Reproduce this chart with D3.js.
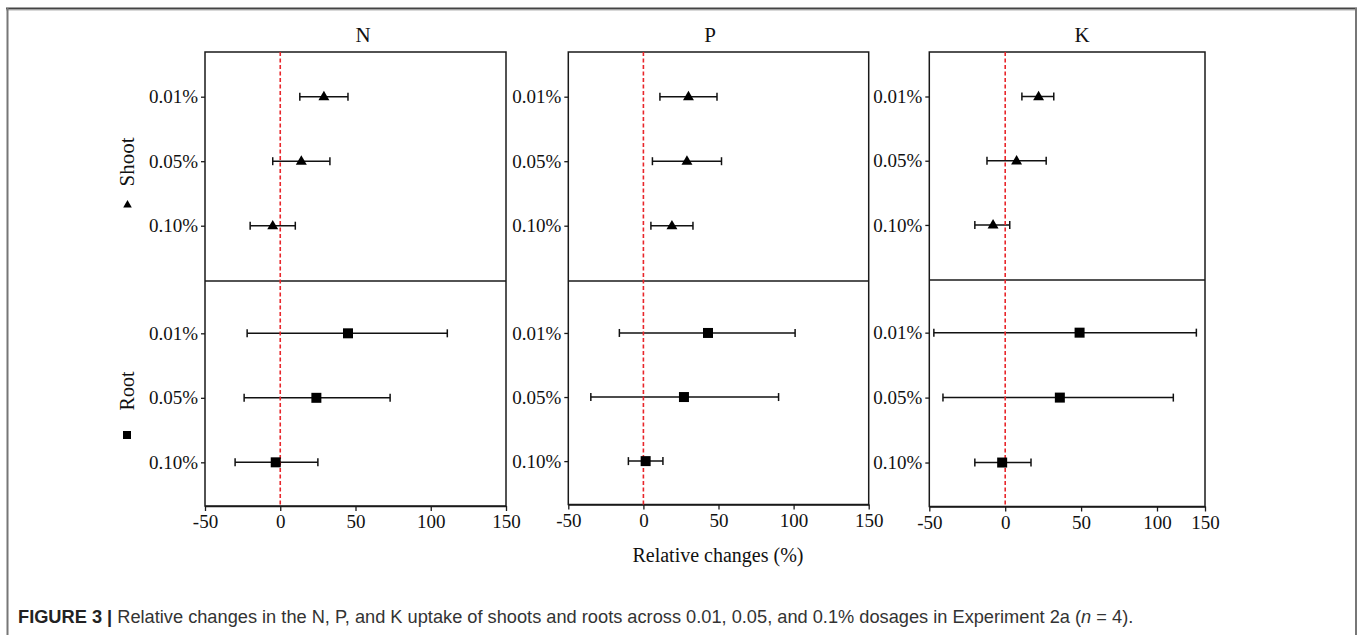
<!DOCTYPE html>
<html>
<head>
<meta charset="utf-8">
<script src="https://cdn.jsdelivr.net/npm/d3@7"></script>
<style>
  html, body { margin: 0; padding: 0; background: #fff; }
  svg { display: block; }
</style>
</head>
<body>
<script>
// ---------- data ----------
const nutrients = ["N", "P", "K"];
const categories = ["0.01%", "0.05%", "0.10%"];
const xTicks = [-50, 0, 50, 100, 150];
const xLabel = "Relative changes (%)";

// rows: N, P, K ; columns: 0.01%, 0.05%, 0.10%
const shootMean = [[29, 14, -5], [30, 29, 19], [22, 7.5, -8]];
const shootLow  = [[13, -5, -20], [11, 6, 5], [11, -12, -20]];
const shootHigh = [[45, 33, 10], [49, 52, 33], [32, 27, 3]];
const rootMean  = [[45, 24, -3], [43, 27, 1.5], [49, 36, -2]];
const rootLow   = [[-22, -24, -30], [-16, -35, -10], [-47, -41, -20]];
const rootHigh  = [[111, 73, 25], [101, 90, 13], [141, 117, 17]];

// ---------- layout ----------
const W = 1358, H = 635;
const serif = "'Liberation Serif', 'Times New Roman', serif";
const panels = [
  { left: 205, right: 506, top: 52, mid: 281, bottom: 506, titleX: 363,
    xDomain: [-50, 150] },
  { left: 568.3, right: 868.7, top: 52, mid: 281, bottom: 504.5, titleX: 710,
    xDomain: [-50, 150] },
  { left: 929.3, right: 1205, top: 52, mid: 280, bottom: 506.5, titleX: 1082,
    xDomain: [-50, 100, 150], xRangeMid: 1157 }
];

const svg = d3.select("body").append("svg")
  .attr("width", W).attr("height", H);

// outer frame of the figure
svg.append("line").attr("x1", 6).attr("x2", 1357).attr("y1", 8.5).attr("y2", 8.5)
  .attr("stroke", "#444").attr("stroke-width", 1.8);
svg.append("line").attr("x1", 6).attr("x2", 1357).attr("y1", 10.5).attr("y2", 10.5)
  .attr("stroke", "#d8d8d8").attr("stroke-width", 1);
svg.append("line").attr("x1", 7.5).attr("x2", 7.5).attr("y1", 8).attr("y2", H)
  .attr("stroke", "#777").attr("stroke-width", 2);
svg.append("line").attr("x1", 1356).attr("x2", 1356).attr("y1", 8).attr("y2", H)
  .attr("stroke", "#777").attr("stroke-width", 2);

panels.forEach((p, i) => {
  const g = svg.append("g");
  const x = d3.scaleLinear()
    .domain(p.xDomain)
    .range(p.xDomain.length === 3 ? [p.left, p.xRangeMid, p.right] : [p.left, p.right]);
  const yShoot = d3.scalePoint().domain(categories)
    .range([p.top, p.mid]).padding(0.775).align(0.447);
  const yRoot = d3.scalePoint().domain(categories)
    .range([p.mid, p.bottom]).padding(0.744).align(0.545);

  // frame and divider
  g.append("rect")
    .attr("x", p.left).attr("y", p.top)
    .attr("width", p.right - p.left).attr("height", p.bottom - p.top)
    .attr("fill", "none").attr("stroke", "#1a1a1a").attr("stroke-width", 1.5);
  g.append("line")
    .attr("x1", p.left).attr("x2", p.right).attr("y1", p.mid).attr("y2", p.mid)
    .attr("stroke", "#1a1a1a").attr("stroke-width", 1.5);

  // title
  g.append("text").attr("x", p.titleX).attr("y", 42)
    .attr("text-anchor", "middle").attr("font-family", serif)
    .attr("font-size", 21).attr("fill", "#111").text(nutrients[i]);

  // y axes
  [yShoot, yRoot].forEach(ys => {
    const ax = g.append("g").attr("transform", `translate(${p.left},0)`)
      .call(d3.axisLeft(ys).tickSize(4).tickPadding(3));
    ax.select(".domain").remove();
    ax.selectAll("line").attr("stroke", "#1a1a1a").attr("stroke-width", 1.3);
    ax.selectAll("text").attr("font-family", serif).attr("font-size", 19)
      .attr("fill", "#111");
  });

  // x axis
  const xa = g.append("g").attr("transform", `translate(0,${p.bottom})`)
    .call(d3.axisBottom(x).tickValues(xTicks).tickSize(5).tickSizeOuter(0).tickPadding(4)
      .tickFormat(d => String(d)));
  xa.select(".domain").attr("stroke", "#1a1a1a").attr("stroke-width", 1.5);
  xa.selectAll("line").attr("stroke", "#1a1a1a").attr("stroke-width", 1.3);
  xa.selectAll("text").attr("font-family", serif).attr("font-size", 19)
    .attr("fill", "#111");

  // error bars
  const groups = [
    { y: yShoot, mean: shootMean[i], lo: shootLow[i], hi: shootHigh[i], sym: d3.symbolTriangle, size: 52 },
    { y: yRoot, mean: rootMean[i], lo: rootLow[i], hi: rootHigh[i], sym: d3.symbolSquare, size: 100 }
  ];
  groups.forEach(gr => {
    categories.forEach((c, k) => {
      const yy = gr.y(c);
      g.append("line")
        .attr("x1", x(gr.lo[k])).attr("x2", x(gr.hi[k]))
        .attr("y1", yy).attr("y2", yy)
        .attr("stroke", "#111").attr("stroke-width", 1.5);
      [gr.lo[k], gr.hi[k]].forEach(v => {
        g.append("line")
          .attr("x1", x(v)).attr("x2", x(v))
          .attr("y1", yy - 4).attr("y2", yy + 4)
          .attr("stroke", "#111").attr("stroke-width", 1.5);
      });
    });
  });

  // zero reference line
  g.append("line")
    .attr("x1", x(0)).attr("x2", x(0)).attr("y1", p.top).attr("y2", p.bottom)
    .attr("stroke", "#e8262b").attr("stroke-width", 1.6)
    .attr("stroke-dasharray", "4,2.5");

  // markers
  groups.forEach(gr => {
    categories.forEach((c, k) => {
      g.append("path")
        .attr("d", d3.symbol().type(gr.sym).size(gr.size)())
        .attr("transform", `translate(${x(gr.mean[k])},${gr.y(c) + (gr.sym === d3.symbolTriangle ? 0.5 : 0)})`)
        .attr("fill", "#000");
    });
  });
});

// shared x label
svg.append("text").attr("x", 718).attr("y", 562)
  .attr("text-anchor", "middle").attr("font-family", serif)
  .attr("font-size", 20).attr("fill", "#111").text(xLabel);

// left group labels
svg.append("text")
  .attr("transform", "translate(127,162) rotate(-90)")
  .attr("text-anchor", "middle").attr("dominant-baseline", "central")
  .attr("font-family", serif).attr("font-size", 21).attr("fill", "#111")
  .text("Shoot");
svg.append("path")
  .attr("d", d3.symbol().type(d3.symbolTriangle).size(32)())
  .attr("transform", "translate(127.5,205)").attr("fill", "#000");
svg.append("text")
  .attr("transform", "translate(127,391) rotate(-90)")
  .attr("text-anchor", "middle").attr("dominant-baseline", "central")
  .attr("font-family", serif).attr("font-size", 20).attr("fill", "#111")
  .text("Root");
svg.append("path")
  .attr("d", d3.symbol().type(d3.symbolSquare).size(64)())
  .attr("transform", "translate(127,435)").attr("fill", "#000");

// caption
const cap = svg.append("text").attr("x", 18).attr("y", 623)
  .attr("font-family", "'Liberation Sans', Arial, sans-serif")
  .attr("font-size", 16).attr("fill", "#333");
cap.append("tspan").attr("font-weight", "bold").attr("fill", "#222").text("FIGURE 3 |");
cap.append("tspan").text(" Relative changes in the N, P, and K uptake of shoots and roots across 0.01, 0.05, and 0.1% dosages in Experiment 2a (");
cap.append("tspan").attr("font-style", "italic").text("n");
cap.append("tspan").text(" = 4).");
const targetW = 1134 - 18;
const curW = cap.node().getComputedTextLength();
cap.attr("font-size", 16 * targetW / curW);
</script>
</body>
</html>
